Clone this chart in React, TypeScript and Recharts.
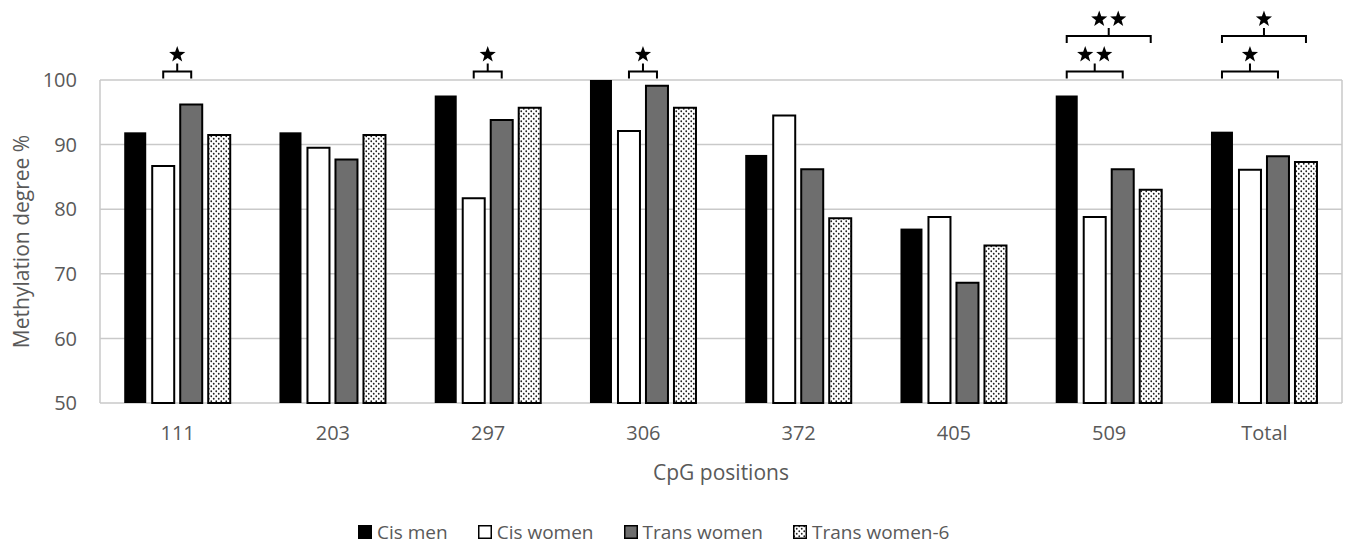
import React from 'react';
import { BarChart, Bar, XAxis, YAxis, CartesianGrid } from 'recharts';

// ---- data ----
const categories = ['111', '203', '297', '306', '372', '405', '509', 'Total'];
const cisMen = [91.9, 91.9, 97.6, 100, 88.4, 77.0, 97.6, 92.0];
const cisWomen = [86.7, 89.5, 81.7, 92.1, 94.5, 78.8, 78.8, 86.1];
const transWomen = [96.2, 87.7, 93.8, 99.1, 86.2, 68.6, 86.2, 88.2];
const transWomen6 = [91.5, 91.5, 95.7, 95.7, 78.6, 74.4, 83.0, 87.3];
const yTicks = [50, 60, 70, 80, 90, 100];

// significance brackets: category, from-series index, to-series index, level (y value), number of stars
const sigCategory = ['111', '297', '306', '509', '509', 'Total', 'Total'];
const sigFrom = [1, 1, 1, 0, 0, 0, 0];
const sigTo = [2, 2, 2, 2, 3, 2, 3];
const sigLevel = [101.3, 101.3, 101.3, 101.3, 106.8, 101.3, 106.8];
const sigStars = [1, 1, 1, 2, 2, 1, 1];

const seriesNames = ['Cis men', 'Cis women', 'Trans women', 'Trans women-6'];

const data = categories.map((c, i) => ({
  cat: c,
  cisMen: cisMen[i],
  cisWomen: cisWomen[i],
  transWomen: transWomen[i],
  transWomen6: transWomen6[i],
}));

// ---- style ----
const TEXT = '#595959';
const FONT = '"Open Sans", "Segoe UI", "DejaVu Sans", sans-serif';
const GRID = '#c9c9c9';
const BAR_GAP = 6;
const GRAY = '#6e6e6e';

function starPoints(cx: number, cy: number, R: number, r: number) {
  const pts: string[] = [];
  for (let k = 0; k < 10; k++) {
    const ang = -Math.PI / 2 + (k * Math.PI) / 5;
    const rad = k % 2 === 0 ? R : r;
    pts.push(`${(cx + rad * Math.cos(ang)).toFixed(2)},${(cy + rad * Math.sin(ang)).toFixed(2)}`);
  }
  return pts.join(' ');
}

function CisMenShape(props: any) {
  const { x, y, width, height, fill, payload } = props;
  const v = payload.cisMen;
  const ppu = height / (v - 50);
  const base = y + height;
  const yOf = (val: number) => base - (val - 50) * ppu;
  const step = width + BAR_GAP;
  const c0 = x + width / 2;
  const items: any[] = [];
  sigCategory.forEach((cat, k) => {
    if (cat !== payload.cat) return;
    const x1 = c0 + sigFrom[k] * step;
    const x2 = c0 + sigTo[k] * step;
    const yl = yOf(sigLevel[k]);
    const mid = (x1 + x2) / 2;
    items.push(
      <path
        key={`b${k}`}
        d={`M${x1},${yl + 7} V${yl} H${x2} V${yl + 7} M${mid},${yl} V${yl - 8}`}
        stroke="#000"
        strokeWidth={2}
        fill="none"
      />
    );
    const n = sigStars[k];
    for (let s = 0; s < n; s++) {
      const cx = mid + (s - (n - 1) / 2) * 19;
      items.push(<polygon key={`s${k}-${s}`} points={starPoints(cx, yl - 17, 8.5, 3.5)} fill="#000" />);
    }
  });
  return (
    <g>
      <rect x={x} y={y} width={width} height={height} fill={fill} />
      {items}
    </g>
  );
}

function Swatch({ fill }: { fill: string }) {
  return (
    <svg width={14} height={14} style={{ display: 'block' }}>
      <rect x={0.75} y={0.75} width={12.5} height={12.5} fill={fill} stroke="#000" strokeWidth={1.5} />
    </svg>
  );
}

export default function App() {
  const fills = ['#000', '#fff', GRAY, 'url(#dots)'];
  return (
    <div style={{ position: 'absolute', left: 0, top: 0, width: 1351, height: 543, background: '#fff', fontFamily: FONT }}>
      <svg width={0} height={0} style={{ position: 'absolute' }}>
        <defs>
          <pattern id="dots" width={5} height={5} patternUnits="userSpaceOnUse">
            <rect width={5} height={5} fill="#fff" />
            <circle cx={1.25} cy={1.25} r={0.9} fill="#222" />
            <circle cx={3.75} cy={3.75} r={0.9} fill="#222" />
          </pattern>
        </defs>
      </svg>
      <BarChart
        width={1351}
        height={543}
        data={data}
        margin={{ top: 80, right: 9, bottom: 60, left: 0 }}
        barGap={BAR_GAP}
        barCategoryGap="15.6%"
        style={{ fontFamily: FONT, overflow: 'visible' }}
      >
        <CartesianGrid
          vertical
          horizontal
          stroke={GRID}
          strokeWidth={1.5}
          verticalCoordinatesGenerator={({ offset }: any) => [offset.left, offset.left + offset.width]}
        />
        <XAxis
          dataKey="cat"
          axisLine={false}
          tickLine={false}
          tickSize={0}
          tickMargin={23}
          height={80}
          interval={0}
          tick={{ fill: TEXT, fontSize: 20, fontFamily: FONT }}
          label={{ value: 'CpG positions', position: 'insideBottom', offset: 3.5, fill: TEXT, fontSize: 21, fontFamily: FONT }}
        />
        <YAxis
          domain={[50, 100]}
          ticks={yTicks}
          axisLine={false}
          tickLine={false}
          tickSize={0}
          tickMargin={23}
          width={100}
          tick={{ fill: TEXT, fontSize: 20, fontFamily: FONT }}
          label={{ value: 'Methylation degree %', angle: -90, position: 'center', dx: -28, fill: TEXT, fontSize: 21, fontFamily: FONT }}
        />
        <Bar dataKey="cisMen" name={seriesNames[0]} fill={fills[0]} isAnimationActive={false} shape={CisMenShape} />
        <Bar dataKey="cisWomen" name={seriesNames[1]} fill={fills[1]} stroke="#000" strokeWidth={2} isAnimationActive={false} />
        <Bar dataKey="transWomen" name={seriesNames[2]} fill={fills[2]} stroke="#000" strokeWidth={2} isAnimationActive={false} />
        <Bar dataKey="transWomen6" name={seriesNames[3]} fill={fills[3]} stroke="#000" strokeWidth={2} isAnimationActive={false} />
      </BarChart>
      <div
        style={{
          position: 'absolute',
          left: 358,
          top: 520,
          height: 24,
          display: 'flex',
          alignItems: 'center',
          gap: 30,
          color: TEXT,
          fontSize: 19,
          fontFamily: FONT,
          whiteSpace: 'nowrap',
        }}
      >
        {seriesNames.map((n, i) => (
          <div key={n} style={{ display: 'flex', alignItems: 'center', gap: 5 }}>
            <Swatch fill={fills[i]} />
            <span>{n}</span>
          </div>
        ))}
      </div>
    </div>
  );
}
